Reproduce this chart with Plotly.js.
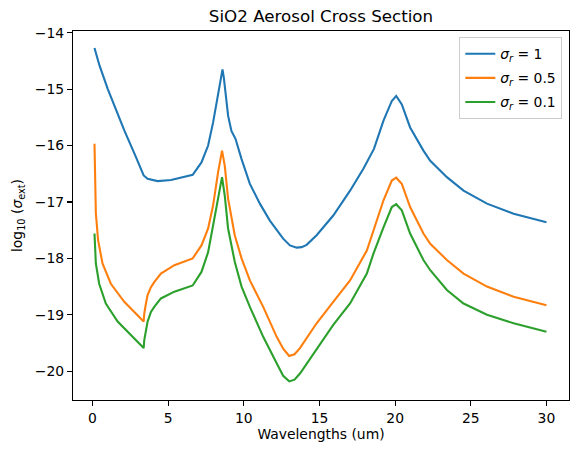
<!DOCTYPE html>
<html>
<head>
<meta charset="utf-8">
<script src="https://cdn.plot.ly/plotly-3.0.1.min.js"></script>
<style>html,body{margin:0;padding:0;background:#fff;}#chart{width:578px;height:453px;}</style>
</head>
<body>
<div id="chart"></div>
<script>
// Wavelengths (um) and log10 extinction cross sections
const x1 = [0.13,0.46,1.01,1.57,2.1,2.8,3.38,3.64,4.3,5.19,6.62,7.2,7.64,7.97,8.3,8.45,8.59,8.68,8.79,8.96,9.18,9.45,9.85,10.4,11.06,11.72,12.6,13.05,13.49,13.82,14.15,14.81,15.91,17.02,17.9,18.6,19.23,19.78,20.07,20.44,20.99,21.87,22.32,23.42,24.52,26.07,27.83,30.0];
const y1 = [-14.27,-14.58,-15.0,-15.38,-15.73,-16.16,-16.53,-16.59,-16.63,-16.61,-16.52,-16.30,-16.0,-15.59,-15.06,-14.80,-14.65,-14.80,-15.06,-15.47,-15.74,-15.88,-16.24,-16.68,-17.03,-17.33,-17.65,-17.77,-17.81,-17.80,-17.76,-17.59,-17.24,-16.80,-16.41,-16.06,-15.56,-15.21,-15.12,-15.27,-15.68,-16.09,-16.27,-16.56,-16.80,-17.03,-17.21,-17.36];

const x2 = [0.13,0.16,0.22,0.37,0.66,1.21,2.1,3.38,3.42,3.53,3.64,3.86,4.08,4.52,5.41,6.62,7.2,7.64,7.97,8.3,8.56,8.74,8.96,9.4,9.85,10.4,11.28,12.17,12.6,13.0,13.35,13.71,14.81,15.91,17.02,18.13,18.56,19.23,19.78,20.07,20.44,20.99,21.87,22.32,23.42,24.52,26.07,27.83,30.0];
const y2 = [-15.97,-16.6,-17.2,-17.68,-18.09,-18.45,-18.77,-19.12,-18.98,-18.80,-18.65,-18.51,-18.42,-18.27,-18.12,-18.0,-17.77,-17.47,-17.06,-16.47,-16.09,-16.36,-16.94,-17.59,-18.0,-18.39,-18.86,-19.39,-19.6,-19.73,-19.7,-19.59,-19.15,-18.77,-18.39,-17.86,-17.5,-16.97,-16.62,-16.57,-16.68,-17.09,-17.56,-17.74,-18.03,-18.27,-18.5,-18.68,-18.83];

const x3 = [0.13,0.22,0.44,0.88,1.66,2.5,3.38,3.42,3.53,3.64,3.86,4.08,4.52,5.41,6.62,7.2,7.64,7.97,8.3,8.56,8.74,8.96,9.4,9.85,10.4,11.28,12.17,12.6,13.0,13.35,13.71,14.81,15.91,17.02,18.13,18.56,19.0,19.23,19.78,20.07,20.44,20.99,21.87,22.32,23.42,24.52,26.07,27.83,30.0];
const y3 = [-17.56,-18.09,-18.45,-18.80,-19.12,-19.35,-19.59,-19.45,-19.27,-19.12,-18.95,-18.86,-18.71,-18.59,-18.48,-18.24,-17.89,-17.42,-16.89,-16.56,-16.89,-17.47,-18.06,-18.50,-18.86,-19.39,-19.86,-20.08,-20.18,-20.15,-20.04,-19.62,-19.18,-18.80,-18.27,-17.92,-17.59,-17.45,-17.09,-17.04,-17.15,-17.56,-18.03,-18.21,-18.56,-18.80,-19.0,-19.15,-19.30];

const seriesNames = ['<i>σ</i><sub><i>r</i></sub> = 1','<i>σ</i><sub><i>r</i></sub> = 0.5','<i>σ</i><sub><i>r</i></sub> = 0.1'];
const xTicks = [0,5,10,15,20,25,30];
const yTicks = [-20,-19,-18,-17,-16,-15,-14];

const colors = ['#1f77b4','#ff7f0e','#2ca02c'];
const xs = [x1,x2,x3], ys = [y1,y2,y3];
const traces = xs.map((x,i)=>({
  x: x, y: ys[i], type:'scatter', mode:'lines', name: seriesNames[i],
  legendgroup: 'g'+i,
  line:{color:colors[i], width:2.1, shape:'linear'}
}));

const axisCommon = {
  showline:true, mirror:true, linecolor:'#000', linewidth:1.1,
  ticks:'outside', ticklen:5, tickwidth:1.1, tickcolor:'#000',
  showgrid:false, zeroline:false,
  tickfont:{size:13.9, color:'#000'}
};

const layout = {
  width:578, height:453, autosize:false,
  margin:{l:73, r:9, t:31, b:53, pad:0},
  paper_bgcolor:'#fff', plot_bgcolor:'#fff',
  font:{family:'DejaVu Sans, sans-serif', color:'#000', size:13.9},
  title:{text:'SiO2 Aerosol Cross Section', font:{size:16.7, color:'#000'}, x:0.5, xref:'paper', y:1-16/453, yref:'container', yanchor:'middle'},
  xaxis: Object.assign({}, axisCommon, {range:[-1.29,31.49], tickvals:xTicks, ticktext:xTicks.map(String),
    title:{text:'Wavelengths (um)', font:{size:13.9}, standoff:2}}),
  yaxis: Object.assign({}, axisCommon, {range:[-20.51,-13.97], tickvals:yTicks, ticktext:yTicks.map(v=>'\u2212'+Math.abs(v)),
    title:{text:'log<sub>10</sub> (<i>σ</i><sub>ext</sub>)', font:{size:13.9}, standoff:8}}),
  showlegend:true,
  legend:{x:0.9865, xanchor:'right', y:0.983, yanchor:'top', bgcolor:'rgba(255,255,255,0.8)',
    bordercolor:'#cccccc', borderwidth:1, font:{size:13.9}, tracegroupgap:3, itemwidth:30}
};

Plotly.newPlot('chart', traces, layout, {staticPlot:true, displayModeBar:false});
</script>
</body>
</html>
